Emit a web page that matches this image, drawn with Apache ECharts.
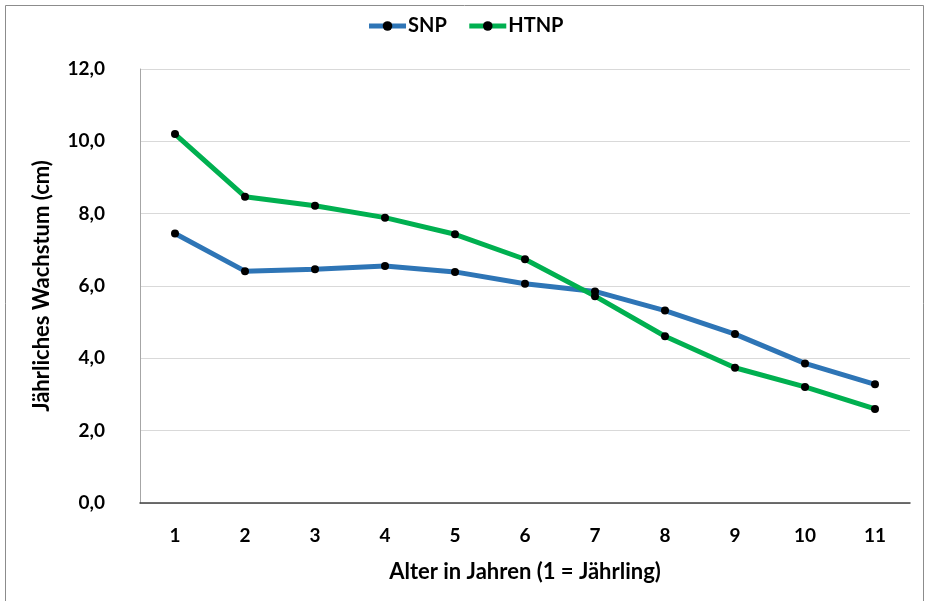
<!DOCTYPE html>
<html>
<head>
<meta charset="utf-8">
<script src="https://cdn.jsdelivr.net/npm/echarts@6/dist/echarts.min.js"></script>
<style>
html,body{margin:0;padding:0;background:#fff;}
#chart{width:930px;height:601px;}
</style>
</head>
<body>
<div id="chart"></div>
<script>
const categories = ['1','2','3','4','5','6','7','8','9','10','11'];
const snp = [7.45, 6.41, 6.46, 6.55, 6.39, 6.06, 5.85, 5.32, 4.67, 3.86, 3.28];
const htnp = [10.20, 8.47, 8.22, 7.89, 7.43, 6.74, 5.72, 4.61, 3.74, 3.21, 2.60];
const seriesNames = ['SNP', 'HTNP'];
const yTicks = {min: 0, max: 12, interval: 2};

const font = 'Lato, "Open Sans", sans-serif';
const chart = echarts.init(document.getElementById('chart'));
chart.setOption({
  animation: false,
  backgroundColor: '#fff',
  graphic: [{
    type: 'rect', silent: true, z: -1,
    shape: {x: 5.5, y: 5.5, width: 918, height: 600},
    style: {fill: 'none', stroke: '#8c8c8c', lineWidth: 1}
  }],
  legend: {
    top: 11, left: 'center',
    itemWidth: 37, itemHeight: 12, itemGap: 20,
    lineStyle: {width: 5},
    textStyle: {fontFamily: font, fontWeight: 'bold', fontSize: 20, color: '#000', padding: [0, 0, 0, -3]},
    data: seriesNames
  },
  grid: {left: 140, right: 20, top: 69, bottom: 98},
  xAxis: {
    type: 'category',
    data: categories,
    boundaryGap: true,
    axisLine: {lineStyle: {color: '#404040', width: 1.5}},
    axisTick: {show: false},
    axisLabel: {margin: 23, fontFamily: font, fontWeight: 'bold', fontSize: 19, color: '#000'},
    name: 'Alter in Jahren (1 = Jährling)',
    nameLocation: 'middle', nameGap: 58,
    nameTextStyle: {fontFamily: font, fontWeight: 'bold', fontSize: 22, color: '#000'}
  },
  yAxis: {
    type: 'value',
    min: yTicks.min, max: yTicks.max, interval: yTicks.interval,
    axisLine: {show: true, lineStyle: {color: '#a6a6a6', width: 1}},
    axisTick: {show: false},
    splitLine: {lineStyle: {color: '#d9d9d9', width: 1}},
    axisLabel: {
      margin: 35, fontFamily: font, fontWeight: 'bold', fontSize: 19, color: '#000',
      formatter: v => v.toFixed(1).replace('.', ',')
    },
    name: 'Jährliches Wachstum (cm)',
    nameLocation: 'middle', nameGap: 87, nameRotate: 90,
    nameTextStyle: {fontFamily: font, fontWeight: 'bold', fontSize: 22, color: '#000'}
  },
  series: [
    {
      name: seriesNames[0], type: 'line', data: snp,
      symbol: 'circle', symbolSize: 8,
      lineStyle: {color: '#2e75b6', width: 5},
      itemStyle: {color: '#000'},
      emphasis: {disabled: true}
    },
    {
      name: seriesNames[1], type: 'line', data: htnp,
      symbol: 'circle', symbolSize: 8,
      lineStyle: {color: '#00b050', width: 5},
      itemStyle: {color: '#000'},
      emphasis: {disabled: true}
    }
  ]
});
</script>
</body>
</html>
